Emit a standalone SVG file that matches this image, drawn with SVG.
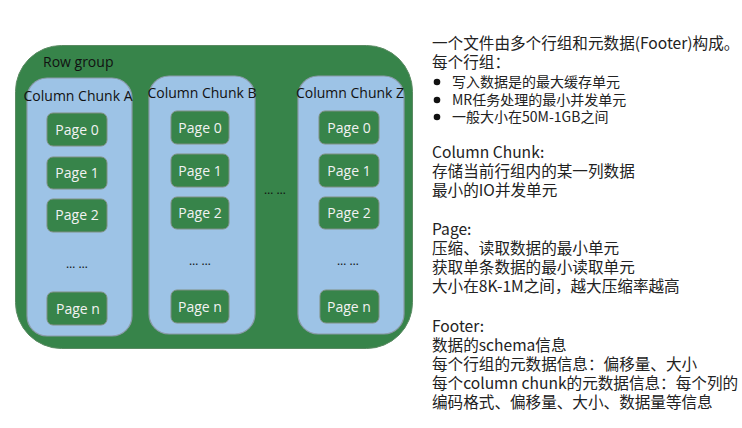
<svg xmlns="http://www.w3.org/2000/svg" width="742" height="428" viewBox="0 0 742 428">
<style>
.rg{fill:#37844a;stroke:#5a8a62;stroke-width:1}
.col{fill:#9dc3e6;stroke:#8a9aa8;stroke-width:1.2}
.pg{fill:#37844a;stroke:#7f8f82;stroke-width:1}
.pt{font-family:"Open Sans",sans-serif;font-size:14px;fill:#f2f2f2;text-anchor:middle}
.lb{font-family:"Open Sans",sans-serif;font-size:14px;fill:#111}
.dots{font-family:"Open Sans",sans-serif;font-size:12px;fill:#111;text-anchor:middle}
.tx{font-family:"Noto Sans CJK SC",sans-serif;font-size:15.6px;fill:#222}
.bl{font-family:"Noto Sans CJK SC",sans-serif;font-size:14px;fill:#222}
</style>
<rect width="742" height="428" fill="#ffffff"/>
<g id="rowgroup">
<rect class="rg" x="15.5" y="45.5" width="397" height="303" rx="46"/>
<text class="lb" x="43" y="67">Row group</text>
</g>
<g id="chunkA">
<rect class="col" x="27" y="78" width="105" height="258" rx="20"/>
<text class="lb" x="78" y="101" text-anchor="middle">Column Chunk A</text>
</g>
<g id="chunkB">
<rect class="col" x="149" y="76" width="106" height="258" rx="20"/>
<text class="lb" x="202" y="98" text-anchor="middle">Column Chunk B</text>
</g>
<g id="chunkZ">
<rect class="col" x="298" y="76" width="106" height="258" rx="20"/>
<text class="lb" x="350" y="98" text-anchor="middle">Column Chunk Z</text>
</g>
<g id="pagesA">
<g id="a0"><rect class="pg" x="47" y="113" width="60" height="33" rx="6"/><text class="pt" x="77" y="135">Page 0</text></g>
<g id="a1"><rect class="pg" x="47" y="157" width="60" height="32" rx="6"/><text class="pt" x="77" y="178">Page 1</text></g>
<g id="a2"><rect class="pg" x="47" y="199" width="60" height="33" rx="6"/><text class="pt" x="77" y="220">Page 2</text></g>
<text class="dots" x="77" y="268">… …</text>
<g id="an"><rect class="pg" x="47" y="292" width="60" height="33" rx="6"/><text class="pt" x="78" y="314">Page n</text></g>
</g>
<g id="pagesB">
<g id="b0"><rect class="pg" x="171" y="111" width="58" height="33" rx="6"/><text class="pt" x="200" y="133">Page 0</text></g>
<g id="b1"><rect class="pg" x="171" y="154" width="58" height="33" rx="6"/><text class="pt" x="200" y="176">Page 1</text></g>
<g id="b2"><rect class="pg" x="171" y="197" width="58" height="32" rx="6"/><text class="pt" x="200" y="218">Page 2</text></g>
<text class="dots" x="200" y="265">… …</text>
<g id="bn"><rect class="pg" x="171" y="290" width="58" height="33" rx="6"/><text class="pt" x="200" y="312">Page n</text></g>
</g>
<g id="pagesZ">
<g id="z0"><rect class="pg" x="319" y="111" width="60" height="33" rx="6"/><text class="pt" x="349" y="133">Page 0</text></g>
<g id="z1"><rect class="pg" x="319" y="154" width="60" height="33" rx="6"/><text class="pt" x="349" y="176">Page 1</text></g>
<g id="z2"><rect class="pg" x="319" y="197" width="60" height="32" rx="6"/><text class="pt" x="349" y="218">Page 2</text></g>
<text class="dots" x="348" y="265">… …</text>
<g id="zn"><rect class="pg" x="320" y="290" width="59" height="33" rx="6"/><text class="pt" x="349" y="312">Page n</text></g>
</g>
<text class="dots" x="275" y="194">… …</text>
<g id="connectors"></g>
<g id="notes">
<text class="tx" x="432" y="49">一个文件由多个行组和元数据(Footer)构成。</text>
<text class="tx" x="432" y="68">每个行组：</text>
<circle cx="437" cy="82" r="3.3" fill="#111"/>
<circle cx="437" cy="100" r="3.3" fill="#111"/>
<circle cx="437" cy="117" r="3.3" fill="#111"/>
<text class="bl" x="452" y="87">写入数据是的最大缓存单元</text>
<text class="bl" x="452" y="105">MR任务处理的最小并发单元</text>
<text class="bl" x="452" y="122">一般大小在50M-1GB之间</text>
<text class="tx" x="432" y="158">Column Chunk:</text>
<text class="tx" x="432" y="177">存储当前行组内的某一列数据</text>
<text class="tx" x="432" y="196">最小的IO并发单元</text>
<text class="tx" x="432" y="235">Page:</text>
<text class="tx" x="432" y="254">压缩、读取数据的最小单元</text>
<text class="tx" x="432" y="273">获取单条数据的最小读取单元</text>
<text class="tx" x="432" y="292">大小在8K-1M之间，越大压缩率越高</text>
<text class="tx" x="432" y="332">Footer:</text>
<text class="tx" x="432" y="351">数据的schema信息</text>
<text class="tx" x="432" y="370">每个行组的元数据信息：偏移量、大小</text>
<text class="tx" x="432" y="389">每个column chunk的元数据信息：每个列的</text>
<text class="tx" x="432" y="408">编码格式、偏移量、大小、数据量等信息</text>
</g>
</svg>
